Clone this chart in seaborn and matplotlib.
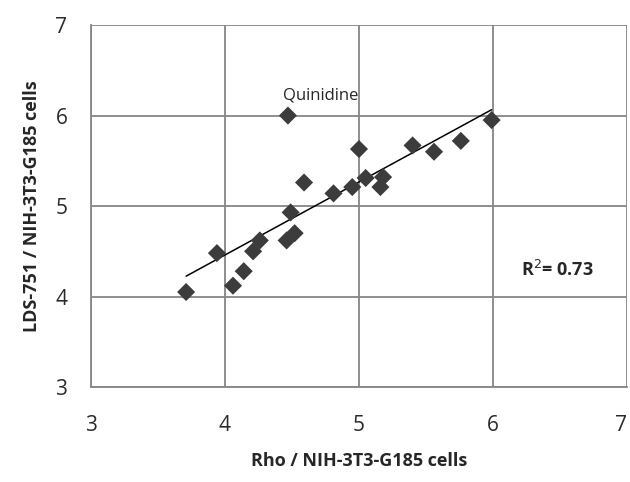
import matplotlib
matplotlib.use('Agg')
import matplotlib.pyplot as plt
import numpy as np
import pandas as pd
import seaborn as sns

# values
rho = [3.71, 3.94, 4.06, 4.14, 4.21, 4.26, 4.46, 4.52, 4.49, 4.59, 4.47,
       4.81, 4.95, 5.00, 5.05, 5.16, 5.18, 5.40, 5.56, 5.76, 5.99]
lds = [4.05, 4.48, 4.12, 4.28, 4.50, 4.62, 4.62, 4.70, 4.93, 5.26, 6.00,
       5.14, 5.21, 5.63, 5.31, 5.21, 5.32, 5.67, 5.60, 5.72, 5.95]
outlier_label = 'Quinidine'
outlier_index = 10
r2_text = 'R$^2$= 0.73'
ticks = [3, 4, 5, 6, 7]

df = pd.DataFrame({'rho': rho, 'lds': lds})

sns.set_style('white')
plt.rcParams['font.family'] = ['Open Sans', 'DejaVu Sans']

fig = plt.figure(figsize=(6.3, 4.82), dpi=100)
ax = fig.add_axes([0.1444, 0.197, 0.8508, 0.751])

grid_color = '#868686'
sns.regplot(data=df, x='rho', y='lds', scatter=False, ci=None, truncate=True,
            color='black', line_kws={'linewidth': 1.1}, ax=ax)
sns.scatterplot(data=df, x='rho', y='lds', marker='D', s=85, color='#3c3c3c',
                edgecolor='none', ax=ax, zorder=3)

ax.set_xlim(3, 7)
ax.set_ylim(3, 7)
ax.set_xticks(ticks)
ax.set_yticks(ticks)
ax.grid(True, color=grid_color, linewidth=1.3)
ax.set_axisbelow(True)
for side in ['top', 'right']:
    ax.spines[side].set_visible(False)
for side in ['left', 'bottom']:
    ax.spines[side].set_color(grid_color)
    ax.spines[side].set_linewidth(1.3)
ax.tick_params(axis='both', direction='out', length=5, width=1.3,
               color=grid_color, labelsize=15, labelcolor='#2a2a2a')
ax.tick_params(axis='x', pad=15)
ax.tick_params(axis='y', pad=12)
# keep the last x label inside the figure, as in the reference
ax.get_xticklabels()[-1].set_horizontalalignment('right')

ax.set_xlabel('Rho / NIH-3T3-G185 cells', fontsize=13, fontweight='bold',
              labelpad=12)
ax.set_ylabel('LDS-751 / NIH-3T3-G185 cells', fontsize=13, fontweight='bold',
              labelpad=10)

ax.text(rho[outlier_index] - 0.04, lds[outlier_index] + 0.13, outlier_label,
        fontsize=12, ha='left', va='bottom')
ax.text(6.48, 4.29, r2_text, fontsize=13, fontweight='bold',
        ha='center', va='center')

fig.savefig('out.png', dpi=100)
